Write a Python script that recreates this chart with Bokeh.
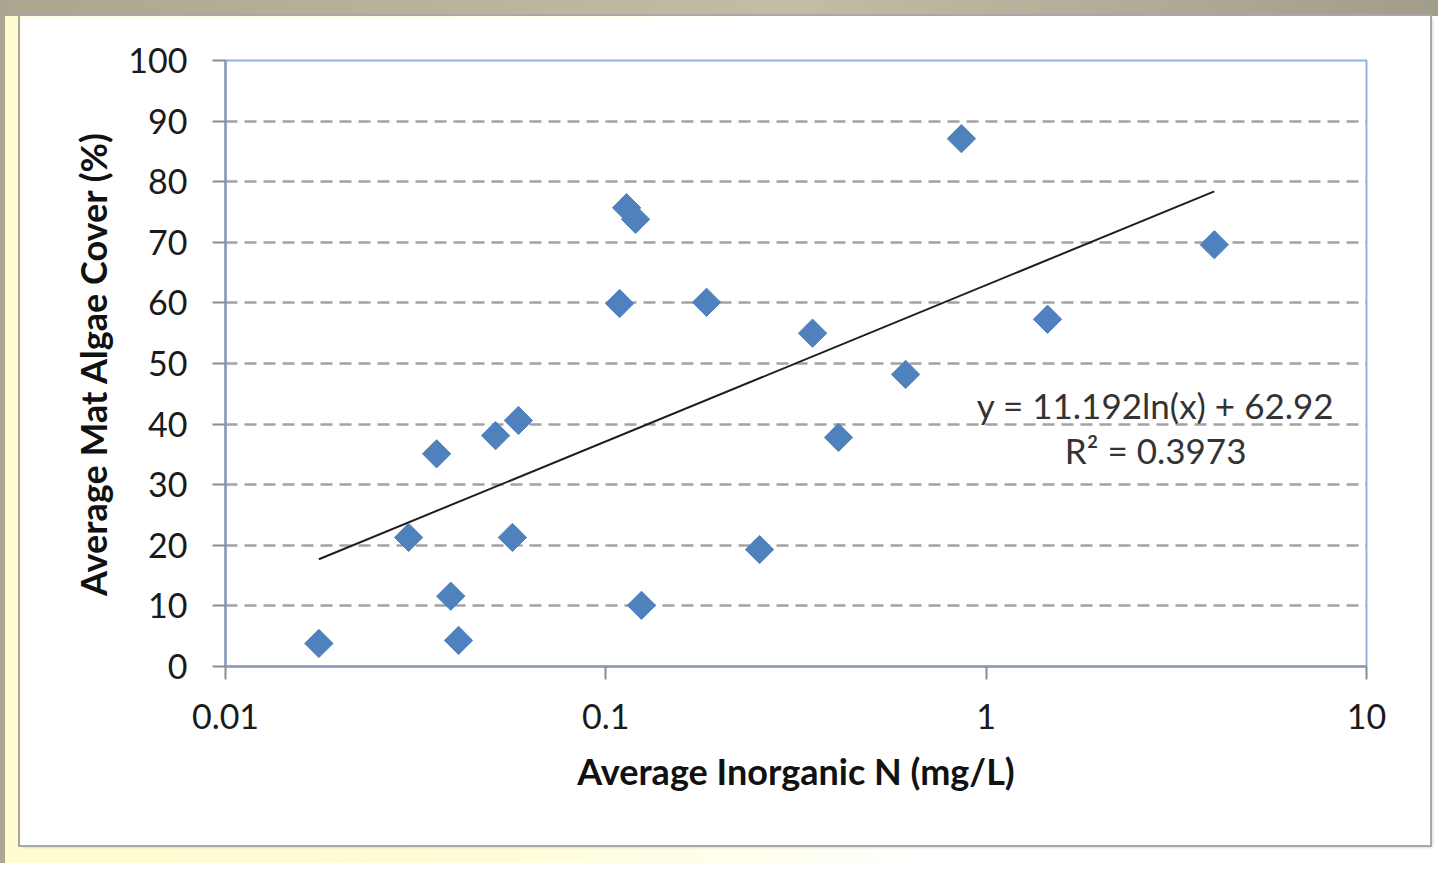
from bokeh.plotting import figure
from bokeh.layouts import column
from bokeh.models import ColumnDataSource, FixedTicker, Label
from bokeh.embed import file_html
from bokeh.resources import INLINE
import math

# ---- data ----
inorganic_n = [0.0176, 0.0303, 0.0359, 0.0391, 0.0410, 0.0513, 0.0568, 0.0589,
               0.1087, 0.1134, 0.1197, 0.1241, 0.184, 0.2536, 0.3496, 0.409,
               0.614, 0.861, 1.45, 3.98]
algae_cover = [3.8, 21.3, 35.1, 11.6, 4.3, 38.1, 21.3, 40.6,
               59.9, 75.7, 73.8, 10.1, 60.1, 19.3, 55.0, 37.8,
               48.2, 87.1, 57.3, 69.6]
trend_x = [0.0176, 3.98]
trend_y = [17.7, 78.4]
y_ticks = [0, 10, 20, 30, 40, 50, 60, 70, 80, 90, 100]
x_ticks = [0.01, 0.1, 1, 10]
x_tick_labels = {0.01: "0.01", 0.1: "0.1", 1: "1", 10: "10"}
equation_text = "y = 11.192ln(x) + 62.92"
r2_text = "R\u00b2 = 0.3973"
x_title = "Average Inorganic N (mg/L)"
y_title = "Average Mat Algae Cover (%)"

FONT = "Lato"

p = figure(width=1410, height=829, x_axis_type="log",
           x_range=(0.01, 10), y_range=(0, 100),
           output_backend="svg", toolbar_location=None,
           min_border_left=205, min_border_right=64,
           min_border_top=44, min_border_bottom=179)
p.styles = {"outline": "2px solid #a8a8a8", "box-shadow": "2px 2px 3px #bdbdbd"}
p.background_fill_color = "white"
p.border_fill_color = "white"
p.outline_line_color = "#8eb4e3"
p.outline_line_width = 2

# grid
p.xgrid.visible = False
p.ygrid.ticker = FixedTicker(ticks=y_ticks)
p.ygrid.grid_line_color = "#a3a3a3"
p.ygrid.grid_line_width = 2.5
p.ygrid.grid_line_dash = "12 7"

# axes
p.xaxis.ticker = FixedTicker(ticks=x_ticks)
p.xaxis.major_label_overrides = x_tick_labels
p.yaxis.ticker = FixedTicker(ticks=y_ticks)
for ax in (p.xaxis[0], p.yaxis[0]):
    ax.axis_line_color = "#8a9bb8"
    ax.axis_line_width = 2.5
    ax.major_tick_line_color = "#8c8c8c"
    ax.major_tick_line_width = 2
    ax.major_tick_out = 13
    ax.major_tick_in = 0
    ax.minor_tick_line_color = None
    ax.major_label_text_font = FONT
    ax.major_label_text_font_size = "34px"
    ax.major_label_text_color = "#1a1a1a"
    ax.axis_label_text_font = FONT
    ax.axis_label_text_font_style = "bold"
    ax.axis_label_text_font_size = "36px"
    ax.axis_label_text_color = "#111111"

p.xaxis.axis_label = x_title
p.yaxis.axis_label = y_title
p.xaxis.major_label_standoff = 24
p.yaxis.major_label_standoff = 25
p.xaxis.axis_label_standoff = 17
p.yaxis.axis_label_standoff = 10

# trend line
p.line(trend_x, trend_y, line_color="#1e1e1e", line_width=2)

# points
src = ColumnDataSource(dict(x=inorganic_n, y=algae_cover))
p.scatter("x", "y", source=src, marker="square", size=20, angle=math.pi / 4,
          fill_color="#4f81bd", line_color="#4f81bd", line_width=1)

# equation label
p.add_layout(Label(x=2.79, y=43.2, text=equation_text, text_align="center",
                   text_baseline="middle", text_font=FONT,
                   text_font_size="35px", text_color="#333333"))
p.add_layout(Label(x=2.79, y=35.8, text=r2_text, text_align="center",
                   text_baseline="middle", text_font=FONT,
                   text_font_size="35px", text_color="#333333"))

layout = column(p, width=1438, height=863)
layout.styles = {"padding-left": "20px", "padding-top": "16px",
                 "box-sizing": "border-box",
                 "background": "linear-gradient(to right, #aca690, #c4bca6 55%, #a29c8a) top / 100% 16px no-repeat, linear-gradient(to right, #aca690 0px, #aca690 5px, #fffcd0 5px, #fffdd8 35%, #ffffff 65%)"}

open("out.html", "w").write(file_html(layout, INLINE))
